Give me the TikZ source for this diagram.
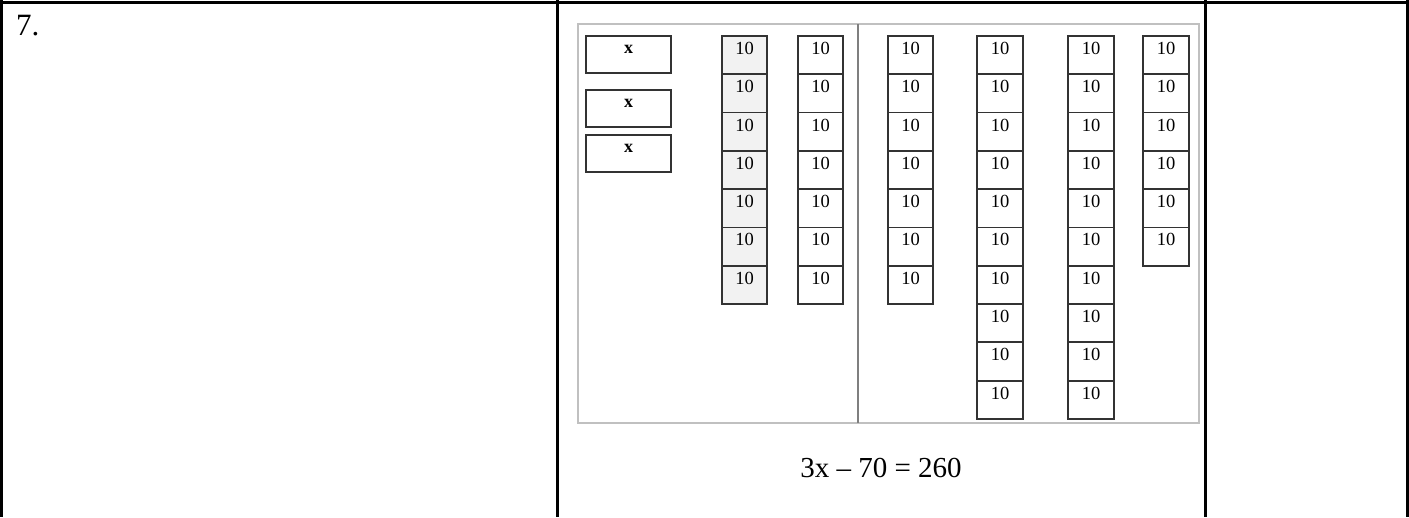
\documentclass[tikz,border=0pt]{standalone}
\usepackage{fontspec}
\setmainfont{Liberation Serif}
\usepackage{xcolor}
\usetikzlibrary{positioning}
\definecolor{frame}{HTML}{C0C0C0}
\definecolor{divider}{HTML}{7F7F7F}
\definecolor{cellline}{HTML}{333333}
\definecolor{shade}{HTML}{F2F2F2}

\begin{document}
\begin{tikzpicture}[x=1pt, y=-1pt,
  rule/.style={line width=3pt, black},
  tile/.style={rectangle, draw=cellline, line width=1.8pt, inner xsep=0pt, inner ysep=0pt,
    minimum width=45.5pt, minimum height=38.3pt, text height=18.5pt, text depth=19.8pt,
    font=\fontsize{18.5}{18.5}\selectfont, anchor=north},
  tenbox/.style={tile, fill=white},
  negbox/.style={tile, fill=shade},
  xbox/.style={tile, fill=white, minimum width=85pt, minimum height=37pt,
    text height=18pt, text depth=19pt, font=\fontsize{18}{18}\selectfont\bfseries}
]
\useasboundingbox (0,0) rectangle (1409,517);

% ===== Table rules =====
\draw[rule] (0,2.5) -- (1409,2.5);
\foreach \xr in {1.5,557,1205,1407.5}{\draw[rule] (\xr,0) -- (\xr,517);}

\node[anchor=base west, inner sep=0pt, font=\fontsize{31}{31}\selectfont] (num) at (16,35) {7.};

% ===== Mat =====
\draw[frame, line width=2.2pt] (578,24) rectangle (1199,423);
\draw[divider, line width=2pt] (858,24) -- (858,423);

% ===== x tiles =====
\node[xbox] (x1) at (628.5,35) {x};
\node[xbox] (x2) at (628.5,89) {x};
\node[xbox] (x3) at (628.5,134) {x};

% ===== Negative tens (left side) =====
\foreach \r in {1,...,7}{
  \node[negbox] (n\r) at (744.5,{35+(\r-1)*38.3}) {10};
}

% ===== Tens =====
\foreach \c/\cx/\n in {a/820.5/7, b/910.5/7, c/1000/10, d/1091/10, e/1166/6}{
  \foreach \r in {1,...,\n}{
    \node[tenbox] (\c\r) at (\cx,{35+(\r-1)*38.3}) {10};
  }
}

% ===== Equation =====
\node[anchor=base, inner sep=0pt, font=\fontsize{29}{29}\selectfont] (eq) at (881,477) {3x -- 70 = 260};

\end{tikzpicture}
\end{document}
